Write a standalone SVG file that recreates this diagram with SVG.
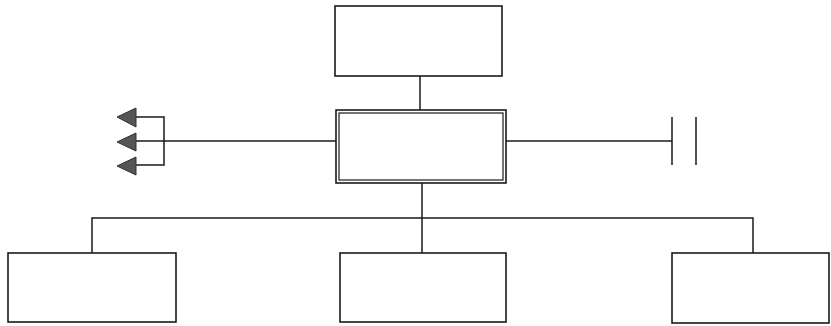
<svg xmlns="http://www.w3.org/2000/svg" width="831" height="326" viewBox="0 0 831 326">
<style>
.box{fill:#fff;stroke:#1a1a1a;stroke-width:1.6}
.ln{fill:none;stroke:#1a1a1a;stroke-width:1.5}
.ah{fill:#555;stroke:#333;stroke-width:1}
</style>
<rect width="831" height="326" fill="#fff"/>
<g id="connectors">
<line class="ln" x1="420" y1="76" x2="420" y2="111"/>
<line class="ln" x1="422" y1="183" x2="422" y2="253"/>
<polyline class="ln" points="92,253 92,218 753,218 753,253"/>
<line class="ln" x1="134" y1="141" x2="337" y2="141"/>
<polyline class="ln" points="134,117 164,117 164,165 134,165"/>
<polygon class="ah" points="117,117 136,108 136,127"/>
<polygon class="ah" points="117,142 136,133 136,151"/>
<polygon class="ah" points="117,166 136,157 136,175"/>
<line class="ln" x1="506" y1="141" x2="672" y2="141"/>
<line class="ln" x1="672" y1="117" x2="672" y2="165"/>
<line class="ln" x1="696" y1="117" x2="696" y2="165"/>
</g>
<g id="top"><rect class="box" x="335" y="6" width="167" height="70"/></g>
<g id="center">
<rect class="box" x="336" y="110" width="170" height="73" stroke-width="1.8"/>
<rect x="339" y="113" width="164" height="67" fill="none" stroke="#1a1a1a" stroke-width="1.2"/>
</g>
<g id="bottom-left"><rect class="box" x="8" y="253" width="168" height="69"/></g>
<g id="bottom-middle"><rect class="box" x="340" y="253" width="166" height="69"/></g>
<g id="bottom-right"><rect class="box" x="672" y="253" width="157" height="70"/></g>
</svg>
